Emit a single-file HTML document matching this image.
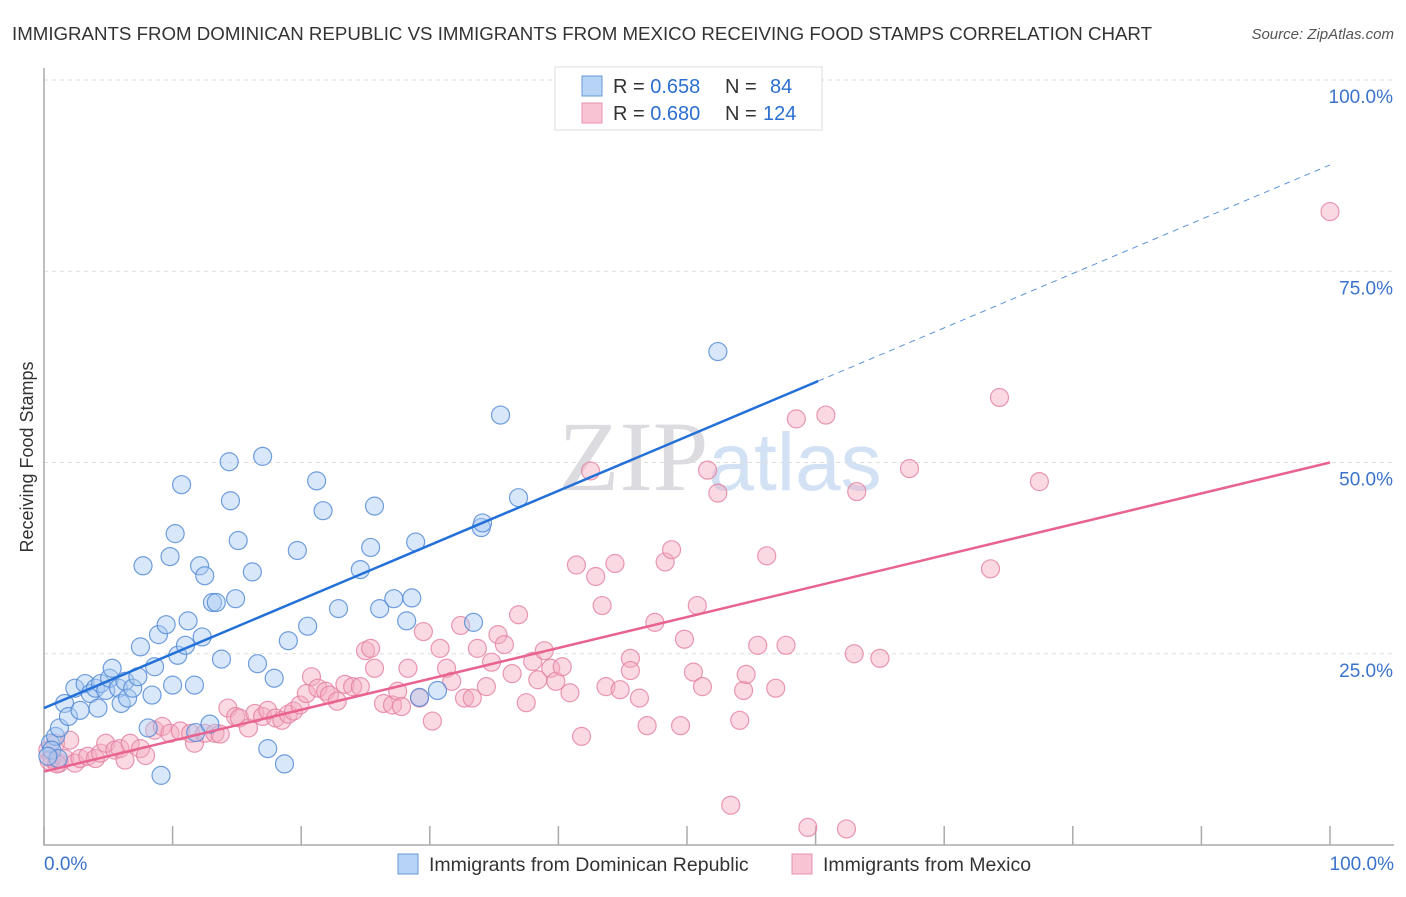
<!DOCTYPE html>
<html><head><meta charset="utf-8"><style>
body{margin:0;background:#fff;font-family:"Liberation Sans",sans-serif}
</style></head><body>
<svg id="chart" width="1406" height="892" xmlns="http://www.w3.org/2000/svg" font-family="Liberation Sans, sans-serif">
<text x="12" y="40" font-size="18.7" fill="#333">IMMIGRANTS FROM DOMINICAN REPUBLIC VS IMMIGRANTS FROM MEXICO RECEIVING FOOD STAMPS CORRELATION CHART</text>
<text x="1394" y="39" font-size="15" fill="#555" font-style="italic" text-anchor="end">Source: ZipAtlas.com</text>
<text x="720" y="490" font-size="100" fill="#dcdce0" text-anchor="middle" font-family="Liberation Serif, serif">ZIP<tspan fill="#d2e2f4" font-family="Liberation Sans, sans-serif" font-size="82">atlas</tspan></text>
<text transform="translate(33,457) rotate(-90)" font-size="18" fill="#333" text-anchor="middle">Receiving Food Stamps</text>
<g id="grid"></g>
<g id="marks"></g>
<g id="lines"></g>
<g>
<rect x="555" y="67" width="267" height="63" fill="#fff" stroke="#ddd"/>
<rect x="582" y="76" width="20" height="20" fill="#b7d3f5" stroke="#6a9ad8"/>
<rect x="582" y="103" width="20" height="20" fill="#f8c4d4" stroke="#e890ac"/>
<text x="613" y="93" font-size="20" fill="#333">R = <tspan fill="#2b6fd0">0.658</tspan><tspan x="725">N = </tspan><tspan x="770" fill="#2b6fd0">84</tspan></text>
<text x="613" y="120" font-size="20" fill="#333">R = <tspan fill="#2b6fd0">0.680</tspan><tspan x="725">N = </tspan><tspan x="763" fill="#2b6fd0">124</tspan></text>
</g>
<g>
<rect x="398" y="854" width="20" height="20" fill="#b7d3f5" stroke="#6a9ad8"/>
<text x="429" y="871" font-size="19.5" fill="#333">Immigrants from Dominican Republic</text>
<rect x="792" y="854" width="20" height="20" fill="#f8c4d4" stroke="#e890ac"/>
<text x="823" y="871" font-size="19.5" fill="#333">Immigrants from Mexico</text>
</g>
<text x="44" y="870" font-size="19" fill="#3b73cc">0.0%</text>
<text x="1394" y="870" font-size="19" fill="#3b73cc" text-anchor="end">100.0%</text>
</svg>
<script>
const yTicks=[25,50,75,100];
const xTicks=[0,10,20,30,40,50,60,70,80,90,100];
const blueX=[0.5,0.9,0.6,1.1,0.3,1.2,1.6,1.9,2.4,2.8,3.2,3.6,4.0,4.2,4.4,4.8,5.1,5.3,5.8,6.0,6.3,6.5,6.9,7.3,7.5,7.7,8.1,8.4,8.6,8.9,9.1,9.5,9.8,10.0,10.2,10.4,10.7,11.0,11.2,11.7,11.8,12.1,12.3,12.5,12.9,13.1,13.4,13.8,14.4,14.5,14.9,15.1,16.2,16.6,17.0,17.4,17.9,18.7,19.0,19.7,20.5,21.2,21.7,22.9,24.6,25.4,25.7,26.1,27.2,28.2,28.6,28.9,29.2,30.6,33.4,34.0,34.1,35.5,36.9,52.4];
const blueY=[13.3,14.2,12.4,11.3,11.6,15.3,18.5,16.8,20.5,17.6,21.1,19.8,20.5,17.9,21.1,20.2,21.8,23.1,20.5,18.5,21.4,19.2,20.5,22.0,25.9,36.5,15.3,19.6,23.3,27.5,9.1,28.8,37.7,20.9,40.7,24.8,47.1,26.1,29.3,20.9,14.7,36.5,27.2,35.2,15.8,31.7,31.7,24.3,50.1,45.0,32.2,39.8,35.7,23.7,50.8,12.6,21.8,10.6,26.7,38.5,28.6,47.6,43.7,30.9,36.0,38.9,44.3,30.9,32.2,29.3,32.3,39.6,19.3,20.2,29.1,41.5,42.1,56.2,45.4,64.5];
const pinkX=[0.3,0.6,0.9,1.2,1.6,2.0,2.4,2.8,3.4,4.0,4.4,4.8,5.5,5.9,6.3,6.7,7.5,7.9,8.6,9.2,9.8,10.6,11.4,11.7,12.5,13.3,13.7,14.3,14.9,15.2,15.9,16.4,17.0,17.4,18.0,18.5,19.0,19.4,19.9,20.4,20.8,21.3,21.9,22.2,22.8,23.4,24.0,24.6,25.0,25.4,25.7,26.4,27.1,27.5,27.8,28.3,29.2,29.5,30.2,30.8,31.3,31.7,32.4,32.7,33.3,33.7,34.4,34.8,35.3,35.8,36.4,36.9,37.5,38.0,38.4,38.9,39.4,39.8,40.3,40.9,41.4,41.8,42.5,42.9,43.4,43.7,44.4,44.8,45.6,45.6,46.3,46.9,47.5,48.3,48.8,49.5,49.8,50.5,50.8,51.2,51.6,52.4,53.4,54.1,54.4,54.6,55.5,56.2,56.9,57.7,58.5,59.4,60.8,62.4,63.0,63.2,65.0,67.3,73.6,74.3,77.4,100,0.4,1.0];
const pinkY=[12.4,11.3,13.3,10.7,11.3,13.7,10.7,11.3,11.6,11.3,12.0,13.3,12.4,12.6,11.1,13.3,12.6,11.7,15.0,15.5,14.6,14.9,14.6,13.3,14.6,14.6,14.5,17.9,16.8,16.6,15.3,17.2,16.8,17.6,16.6,16.3,17.1,17.5,18.3,19.8,22.0,20.5,20.1,19.6,18.8,21.0,20.7,20.7,25.4,25.7,23.1,18.5,18.3,20.1,18.1,23.1,19.2,27.9,16.2,25.7,23.1,21.4,28.7,19.2,19.2,25.7,20.7,23.9,27.5,26.2,22.4,30.1,18.6,24.0,21.6,25.4,23.1,21.4,23.3,19.9,36.6,14.2,48.9,35.1,31.3,20.7,36.8,20.3,24.4,22.8,19.2,15.6,29.1,37.0,38.6,15.6,26.9,22.6,31.3,20.7,49.0,46.0,5.2,16.3,20.2,22.3,26.1,37.8,20.5,26.1,55.7,2.3,56.2,2.1,25.0,46.2,24.4,49.2,36.1,58.5,47.5,82.8,11.0,10.6];
const blueFit=[17.9,0.71];
const pinkFit=[9.6,0.404];
const blueSolidEnd=60.2, blueDashEnd=100;

const X0=44,X1=1330,Y0=845,Y100=80;
const sx=v=>X0+(X1-X0)*v/100;
const sy=v=>Y0-(Y0-Y100)*v/100;
const NS="http://www.w3.org/2000/svg";
function mk(tag,attrs,parent){const e=document.createElementNS(NS,tag);for(const k in attrs)e.setAttribute(k,attrs[k]);parent.appendChild(e);return e;}
const grid=document.getElementById('grid'),marks=document.getElementById('marks'),lines=document.getElementById('lines');
yTicks.forEach(t=>{
  const l=mk('line',{x1:X0,x2:1394,y1:sy(t),y2:sy(t),stroke:'#ddd','stroke-dasharray':'4,4'},grid);
  
  
  const tx=mk('text',{x:1393,y:sy(t)+23,'font-size':19,fill:'#3b73cc','text-anchor':'end'},grid);
  tx.textContent=t.toFixed(1)+'%';
  
  
});
const ax=mk('path',{d:`M${X0},68V${Y0}H1394`,stroke:'#aaa','stroke-width':1.5,fill:'none'},grid);


xTicks.forEach(t=>{
  const l=mk('line',{x1:sx(t),x2:sx(t),y1:826,y2:Y0,stroke:'#aaa','stroke-width':1.5},grid);
  
  
});
function pts(xs,ys,fill,stroke,name){
  xs.forEach((x,i)=>{
    const c=mk('circle',{cx:sx(x),cy:sy(ys[i]),r:9,fill:fill,'fill-opacity':0.45,stroke:stroke,'stroke-opacity':0.8,'stroke-width':1.2},marks);
    
    
  });
}
pts(pinkX,pinkY,'#f4aac2','#e37fa0','mexico-point');
pts(blueX,blueY,'#a9c9f1','#4f87d4','dominican-point');
function fl(fit,a,b,color,dash,name){
  const l=mk('line',{x1:sx(a),y1:sy(fit[0]+fit[1]*a),x2:sx(b),y2:sy(fit[0]+fit[1]*b),stroke:color,'stroke-width':dash?1:2.5},lines);
  if(dash)l.setAttribute('stroke-dasharray','6,5');
  
  
}
fl(blueFit,0,blueSolidEnd,'#2370d8',false,'dominican-trend-line');
fl(blueFit,blueSolidEnd,blueDashEnd,'#5b92d8',true,'dominican-trend-extension');
fl(pinkFit,0,100,'#e8638f',false,'mexico-trend-line');
</script>
</body></html>
